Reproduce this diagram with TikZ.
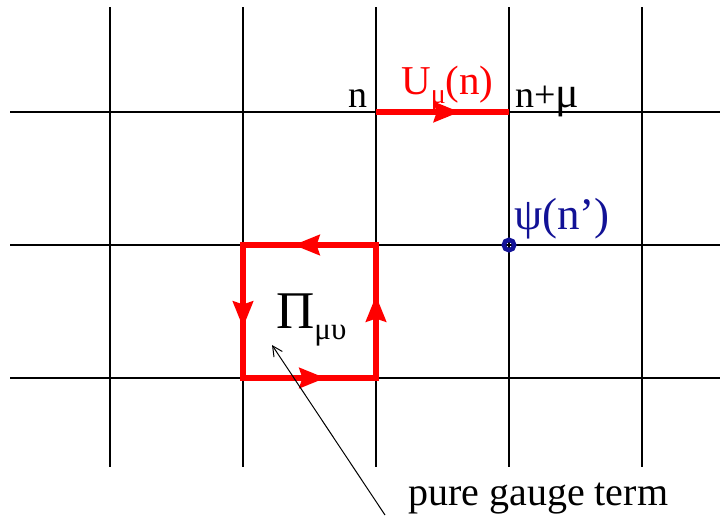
\documentclass[tikz,border=0pt]{standalone}
\usepackage{fontspec}
\setmainfont{Liberation Serif}
\newfontfamily\timesf{Liberation Serif}
\usetikzlibrary{arrows.meta,decorations.markings}
\definecolor{linkred}{RGB}{255,0,0}
\definecolor{psiblue}{RGB}{18,18,150}
\tikzset{
  gridline/.style={line width=2pt,black},
  redlink/.style={line width=5.5pt,linkred},
  redhead/.tip={Stealth[length=26pt,width=20pt,inset=3pt]},
  midarrow/.style={postaction={decorate},decoration={markings,
     mark=at position #1 with {\arrow{redhead}}}},
  lbl/.style={inner sep=0pt,anchor=base west},
}
\begin{document}
\begin{tikzpicture}[x=1pt,y=-1pt]
\useasboundingbox (0,0) rectangle (722,515);
% grid
\foreach \x in {110,243,376,509,642} \draw[gridline] (\x,7) -- (\x,467);
\foreach \y in {112,245,378} \draw[gridline] (10,\y) -- (720,\y);
% lattice sites
\coordinate (n) at (376,112);
\coordinate (nmu) at (509,112);
\coordinate (a) at (376,245);
\coordinate (b) at (243,245);
\coordinate (c) at (243,378);
\coordinate (d) at (376,378);
\coordinate (psi) at (509,245);
% link
\draw[redlink,midarrow=0.63] (n) -- (nmu);
% plaquette
\draw[redlink,line join=miter,postaction={decorate},decoration={markings,
   mark=between positions 0.155 and 1 step 0.25 with {\arrow{redhead}}}]
   (a) -- (b) -- (c) -- (d) -- cycle;
% fermion site
\draw[psiblue,line width=4.5pt] (psi) circle (5.2pt);
% labels
\node[lbl,font=\timesf\fontsize{38}{40}\selectfont] (ln) at (348,107) {n};
\node[lbl,font=\timesf\fontsize{38}{40}\selectfont] (lnmu) at (515,107) {n+{\fontsize{44}{44}\selectfont μ}};
\node[lbl,text=linkred,font=\timesf\fontsize{41}{41}\selectfont] (lU) at (401,94) {U\raisebox{-9pt}{\fontsize{28}{28}\selectfont μ}(n)};
\node[lbl,text=psiblue,font=\timesf\fontsize{45}{45}\selectfont] (lpsi) at (514,229) {ψ(n’)};
\node[lbl,font=\timesf\fontsize{53}{53}\selectfont] (lPi) at (276,328) {Π\raisebox{-11pt}{\fontsize{31}{31}\selectfont μυ}};
\node[lbl,font=\timesf\fontsize{40}{40}\selectfont] (lterm) at (408,505) {pure gauge term};
\coordinate (tail) at (385,515);
\coordinate (tip) at (272,345);
\draw[line width=1pt,-{Straight Barb[length=10pt,width=10pt]}] (tail) -- (tip);
\end{tikzpicture}
\end{document}
